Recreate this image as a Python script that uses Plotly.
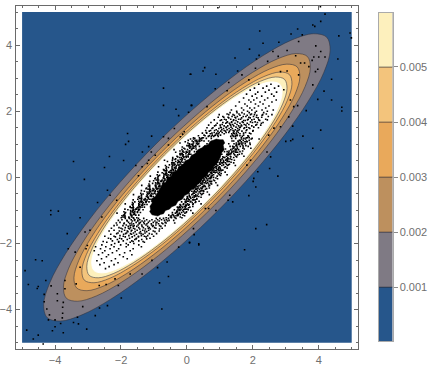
import plotly.graph_objects as go

region_x = [-5, 5, 5, -5, -5]
region_y = [-5, -5, 5, 5, -5]

# shape of the contours, clockwise from the upper right tip, for a contour reaching x = 1
outline_x = [0.975, 0.999, 0.956, 0.847, 0.681, 0.468, 0.224, -0.036, -0.294, -0.531, -0.732, -0.884, -0.975, -0.999, -0.956, -0.847, -0.681, -0.468, -0.224, 0.036, 0.294, 0.531, 0.732, 0.884, 0.975]
outline_y = [0.975, 0.884, 0.732, 0.531, 0.294, 0.036, -0.224, -0.468, -0.681, -0.847, -0.956, -0.999, -0.975, -0.884, -0.732, -0.531, -0.294, -0.036, 0.224, 0.468, 0.681, 0.847, 0.956, 0.999, 0.975]
# rightmost x of the contours at 0.001 ... 0.005 and of the white inner area
level_reach = [4.35, 3.75, 3.43, 3.19, 3.04, 2.89]

core_x = [1.10, 1.15, 1.10, 1.13, 1.05, 1.02, 0.90, 0.82, 0.76, 0.65, 0.60, 0.48, 0.42, 0.31, 0.24, 0.12, 0.05, -0.07, -0.14, -0.27, -0.34, -0.46, -0.53, -0.65, -0.71, -0.80, -0.88, -0.96, -1.06, -1.13,
          -1.10, -1.12, -1.05, -1.09, -1.05, -0.96, -0.82, -0.75, -0.64, -0.60, -0.47, -0.42, -0.30, -0.24, -0.12, -0.05, 0.07, 0.14, 0.26, 0.33, 0.45, 0.52, 0.64, 0.72, 0.82, 0.89, 1.00, 1.10]
core_y = [1.14, 1.04, 0.98, 0.84, 0.74, 0.62, 0.40, 0.33, 0.22, 0.15, 0.04, -0.03, -0.15, -0.22, -0.33, -0.38, -0.49, -0.55, -0.66, -0.72, -0.84, -0.89, -0.96, -1.00, -1.10, -1.12, -1.17, -1.15, -1.13, -1.03,
          -0.98, -0.87, -0.77, -0.72, -0.63, -0.58, -0.33, -0.22, -0.15, -0.02, 0.04, 0.16, 0.21, 0.33, 0.38, 0.50, 0.55, 0.67, 0.72, 0.84, 0.89, 0.96, 0.99, 1.10, 1.13, 1.16, 1.14, 1.14]

# stray points outside the white area
stray_x = [0.12, -0.71, -0.71, -0.33, -0.25, 0.15, 0.05, -0.38, -1.80, -1.77, -1.86, -1.07, -0.71, -0.56, -1.16, -1.35, -1.08, -2.35, -1.92, -3.44, -2.50, -1.55, -3.11, -1.36, -0.96, -0.08, -0.20, -0.13, -0.56, -1.47, -1.20, -1.16,
           0.94, 4.05, 4.19, 4.06, 3.82, 3.88, 2.21, 3.16, 3.36, 3.50, 3.39, 4.61, 4.95, 4.99, 2.31, 2.79, 1.90, 2.19, 1.46, 2.61, 3.04, 3.91, 4.06, 4.19, 4.58, 4.00, 3.85, 3.80, 3.45, 3.57, 3.30, 2.11, 2.77, 2.45, 3.90, 3.97, 3.70, 3.39, 3.04, 2.84, 4.39, 4.16, 3.82, 3.97, 4.39, 4.70, 4.70, 3.62, 3.36, 3.21, 4.06, 3.52, 3.21, 3.15, 3.00, 3.82, 0.10, 0.49, 0.54, 0.88, 1.54, 1.27, 1.67, 0.13, 0.61, 0.86, 1.22, 1.88, 2.08, 2.51, 2.76, 2.15, 2.03, 2.43, 2.54, 2.84, 2.48, 3.14, 2.94, 1.82, 1.93, 3.09, 3.24, 2.64,
           -4.13, -4.13, -3.90, -3.24, -3.63, -2.41, -2.71, -3.09, -3.60, -3.39, -4.59, -4.39, -4.91, -4.81, -4.51, -4.54, -4.28, -4.12, -4.33, -4.33, -3.93, -3.93, -3.75, -3.77, -3.77, -3.78, -4.25, -4.17, -4.20, -4.00, -3.83, -4.00, -4.08, -3.75, -4.86, -4.51, -4.66, -4.36, -3.44, -3.29, -3.32, -3.04, -2.78, -3.16, -2.65, -2.41, -1.99, -0.76, -0.83, -0.56, -0.89, -2.08, -2.45, -2.66, -3.24, -3.70, -3.70, -3.36, -3.02, -3.06, -2.94, -2.58, -2.33, -2.13, -0.25, 0.08, 0.36, -0.60, -1.06, -1.36, -1.72, -2.18,
           1.75, 2.09, 2.42, 0.36, 0.08, 0.22, 1.88, 2.09, 1.39, 1.25, 1.30, 0.88, 0.56, 0.66, 0.20, 2.01]
stray_y = [3.12, 2.70, 2.18, 2.06, 1.87, 2.18, 1.97, 1.48, 1.33, 1.09, 1.00, 1.25, 1.23, 1.18, 0.93, 0.77, 0.77, 0.63, 0.51, 0.48, 0.30, 0.36, -0.06, 0.32, 0.67, 1.38, 1.23, 1.31, 0.98, 0.05, 0.42, 0.52,
           5.13, 5.16, 4.94, 4.72, 4.61, 4.57, 4.43, 4.34, 4.49, 4.31, 4.11, 4.28, 4.37, 4.22, 4.06, 4.09, 3.88, 3.69, 3.61, 3.81, 3.84, 3.98, 3.81, 3.64, 3.58, 3.64, 3.64, 3.54, 3.46, 3.46, 3.68, 3.58, 3.66, 3.51, 3.20, 3.27, 3.35, 3.10, 3.22, 3.20, 2.97, 2.61, 2.80, 2.36, 2.34, 2.12, 2.01, 2.02, 2.17, 1.55, 1.43, 1.25, 1.15, 1.11, 1.09, 0.88, 3.12, 3.22, 3.32, 3.12, 3.22, 2.87, 3.10, 2.18, 2.14, 2.68, 2.62, 2.95, 3.30, 0.27, 0.04, 0.17, -0.03, 0.77, 0.62, 1.53, 1.28, 2.34, 2.65, 0.37, 0.52, 1.83, 2.14, 1.49,
           -1.00, -1.13, -1.02, -1.22, -1.70, -0.39, -0.76, -1.65, -2.16, -2.26, -2.49, -2.52, -2.82, -3.24, -3.30, -3.36, -3.12, -3.28, -3.54, -3.76, -3.52, -3.73, -3.78, -3.93, -4.11, -4.25, -3.98, -4.16, -4.31, -4.31, -4.42, -4.52, -4.64, -4.70, -4.62, -4.77, -4.89, -5.04, -4.39, -4.43, -4.23, -4.59, -4.18, -3.91, -3.95, -3.88, -3.65, -3.98, -3.19, -3.00, -2.73, -3.27, -3.24, -3.27, -2.72, -3.12, -3.37, -3.22, -2.06, -2.16, -1.60, -1.20, -0.54, -0.69, -2.11, -1.96, -2.01, -2.56, -2.51, -2.92, -2.92, -3.07,
           -2.19, -1.55, -1.43, -2.04, -1.98, -1.73, -0.55, -0.29, -0.74, -0.69, -0.54, -1.00, -0.94, -0.94, -1.55, -0.12]

# speckle in the white area, row by row
cloud_rows = [
    (2.82, [2.18, 2.55]), (2.76, [2.42, 2.78]), (2.70, [2.05, 2.31, 2.66]), (2.64, [1.92, 2.49]),
    (2.58, [2.15, 2.38, 2.72]), (2.52, [1.81, 2.08, 2.57]), (2.46, [1.98, 2.27, 2.64]), (2.40, [1.72, 2.12, 2.45]),
    (2.34, [1.88, 2.03, 2.36, 2.71]), (2.28, [1.59, 1.94, 2.22, 2.58]), (2.22, [1.76, 2.08, 2.31]),
    (2.16, [1.48, 1.83, 2.17, 2.49]), (2.10, [1.66, 1.91, 2.05, 2.39]), (2.04, [1.35, 1.72, 1.97, 2.28, 2.62]),
    (2.00, [1.51, 1.84, 2.11, 2.44]),
    (1.96, [1.31, 1.52, 1.67, 1.89, 2.07, 2.33]), (1.92, [1.22, 1.58, 1.74, 1.96, 2.41]),
    (1.88, [1.44, 1.61, 1.83, 2.12, 2.28]), (1.84, [1.09, 1.37, 1.53, 1.71, 1.79, 2.02, 2.47]),
    (1.80, [1.27, 1.48, 1.66, 1.92, 2.16]), (1.76, [1.14, 1.33, 1.57, 1.63, 1.86, 2.04, 2.39]),
    (1.72, [1.01, 1.41, 1.49, 1.72, 1.77, 2.21]), (1.68, [1.23, 1.36, 1.54, 1.68, 1.93, 2.07]),
    (1.64, [0.92, 1.18, 1.29, 1.46, 1.61, 1.83, 2.26]), (1.60, [1.07, 1.31, 1.39, 1.52, 1.74, 1.88, 2.12]),
    (1.56, [0.84, 1.13, 1.24, 1.42, 1.57, 1.66, 1.97]), (1.52, [1.02, 1.19, 1.34, 1.49, 1.62, 1.81, 2.03]),
    (1.48, [0.76, 0.97, 1.11, 1.28, 1.38, 1.54, 1.73, 1.91]), (1.44, [0.89, 1.06, 1.22, 1.33, 1.47, 1.59, 1.82]),
    (1.40, [0.68, 0.94, 1.03, 1.17, 1.29, 1.43, 1.52, 1.67, 2.00]),
    (1.36, [0.59, 0.83, 0.98, 1.07, 1.19, 1.27, 1.41, 1.56, 1.78]), (1.32, [0.71, 0.89, 0.96, 1.13, 1.36, 1.44, 1.61, 1.94]),
    (1.28, [0.52, 0.77, 0.86, 0.93, 1.02, 1.38, 1.49, 1.53, 1.72]), (1.24, [0.65, 0.74, 0.81, 0.95, 1.33, 1.42, 1.47, 1.68, 1.87]),
    (1.20, [0.50, 0.47, 0.38, 0.20, 1.65, 1.80, 1.83, 1.89]), (1.16, [0.41, 0.39, 0.20, 0.11, 1.66, 1.78, 1.95, 2.19]),
    (1.12, [0.45, 0.37, 0.30, 0.25, 0.04, 1.59, 1.62, 1.71, 1.89]), (1.08, [0.37, 0.31, 0.28, 0.20, -0.05, 1.56, 1.65, 1.76, 1.79, 1.83]),
    (1.04, [0.32, 0.20, 0.03, -0.21, 1.50, 1.58, 1.65, 1.70, 1.91]), (1.00, [0.33, 0.18, 0.15, 0.09, 1.50, 1.56, 1.59, 1.67, 1.92]),
    (0.96, [0.27, 0.18, 0.07, 0.04, 0.00, 1.49, 1.51, 1.70, 1.79]), (0.92, [0.27, 0.19, 0.12, 0.07, -0.14, 1.41, 1.44, 1.53, 1.71]),
    (0.88, [0.21, 0.18, 0.09, -0.09, 1.41, 1.53, 1.70, 1.94]), (0.84, [0.14, 0.02, -0.15, -0.39, 1.33, 1.48, 1.51, 1.57]),
    (0.80, [0.09, 0.07, -0.12, -0.21, 1.28, 1.36, 1.43, 1.48, 1.69]), (0.76, [0.08, 0.02, -0.01, -0.09, -0.34, 1.27, 1.36, 1.47, 1.50, 1.54]),
    (0.72, [0.06, -0.03, -0.14, -0.17, -0.21, 1.25, 1.31, 1.34, 1.42, 1.67]), (0.68, [0.04, -0.11, -0.14, -0.20, 1.24, 1.26, 1.45, 1.54]),
    (0.64, [0.00, -0.03, -0.12, -0.30, 1.20, 1.32, 1.49, 1.73]), (0.60, [-0.02, -0.10, -0.17, -0.22, -0.43, 1.12, 1.15, 1.24, 1.42]),
    (0.56, [-0.13, -0.15, -0.34, -0.43, 1.07, 1.22, 1.25, 1.31]), (0.52, [-0.15, -0.27, -0.44, -0.68, 1.03, 1.11, 1.18, 1.23, 1.44]),
    (0.48, [-0.17, -0.23, -0.26, -0.34, -0.59, 1.02, 1.11, 1.22, 1.25, 1.29]), (0.44, [-0.19, -0.28, -0.39, -0.42, -0.46, 1.00, 1.06, 1.09, 1.17, 1.42]),
    (0.40, [-0.21, -0.36, -0.39, -0.45, 0.99, 1.01, 1.20, 1.29]), (0.36, [-0.24, -0.32, -0.39, -0.44, -0.65, 0.94, 1.06, 1.23, 1.47]),
    (0.32, [-0.33, -0.45, -0.62, -0.86, 0.87, 0.90, 0.99, 1.17]), (0.28, [-0.33, -0.36, -0.45, -0.63, 0.81, 0.89, 0.96, 1.01, 1.22]),
    (0.24, [-0.41, -0.43, -0.62, -0.71, 0.79, 0.94, 0.97, 1.03]), (0.20, [-0.41, -0.50, -0.61, -0.64, -0.68, 0.77, 0.86, 0.97, 1.00, 1.04]),
    (0.16, [-0.46, -0.52, -0.55, -0.63, -0.88, 0.74, 0.80, 0.83, 0.91, 1.16]), (0.12, [-0.46, -0.61, -0.64, -0.70, 0.74, 0.76, 0.95, 1.04]),
    (0.08, [-0.49, -0.57, -0.64, -0.69, -0.90, 0.69, 0.81, 0.98, 1.22]), (0.04, [-0.58, -0.70, -0.87, -1.11, 0.62, 0.65, 0.74, 0.92]),
    (0.00, [-0.58, -0.61, -0.70, -0.88, 0.57, 0.72, 0.75, 0.81]), (-0.04, [-0.67, -0.69, -0.88, -0.97, 0.52, 0.60, 0.67, 0.72, 0.93]),
    (-0.08, [-0.66, -0.75, -0.86, -0.89, -0.93, 0.51, 0.54, 0.63, 0.81]), (-0.12, [-0.71, -0.77, -0.80, -0.88, -1.13, 0.48, 0.57, 0.68, 0.71, 0.75]),
    (-0.16, [-0.71, -0.86, -0.89, -0.95, 0.46, 0.52, 0.55, 0.63, 0.88]), (-0.20, [-0.74, -0.82, -0.89, -0.94, -1.15, 0.45, 0.47, 0.66, 0.75]),
    (-0.24, [-0.84, -0.96, -1.13, -1.37, 0.40, 0.52, 0.69, 0.93]), (-0.28, [-0.83, -0.86, -0.95, -1.13, 0.32, 0.47, 0.50, 0.56]),
    (-0.32, [-0.92, -0.94, -1.13, -1.22, 0.27, 0.35, 0.42, 0.47, 0.68]), (-0.36, [-0.91, -1.00, -1.11, -1.14, -1.18, 0.26, 0.29, 0.38, 0.56]),
    (-0.40, [-0.96, -1.02, -1.05, -1.13, -1.38, 0.23, 0.32, 0.43, 0.46, 0.50]), (-0.44, [-0.97, -1.12, -1.15, -1.21, 0.20, 0.26, 0.29, 0.37, 0.62]),
    (-0.48, [-0.99, -1.07, -1.14, -1.19, -1.40, 0.20, 0.22, 0.41, 0.50]), (-0.52, [-1.09, -1.21, -1.38, -1.62, 0.15, 0.27, 0.44, 0.68]),
    (-0.56, [-1.08, -1.11, -1.20, -1.38, 0.07, 0.22, 0.25, 0.31]), (-0.60, [-1.17, -1.19, -1.38, -1.47, 0.02, 0.10, 0.17, 0.22, 0.43]),
    (-0.64, [-1.17, -1.26, -1.37, -1.40, -1.44, 0.00, 0.03, 0.12, 0.30]), (-0.68, [-1.21, -1.27, -1.30, -1.38, -1.63, -0.02, 0.07, 0.18, 0.21, 0.25]),
    (-0.72, [-1.22, -1.37, -1.40, -1.46, -0.05, 0.01, 0.04, 0.12, 0.37]), (-0.76, [-1.24, -1.32, -1.39, -1.44, -1.65, -0.05, -0.03, 0.16, 0.25]),
    (-0.80, [-1.34, -1.46, -1.63, -1.87, -0.10, 0.02, 0.19, 0.43]), (-0.84, [-1.34, -1.37, -1.46, -1.64, -0.19, -0.04, -0.01, 0.05]),
    (-0.88, [-1.42, -1.44, -1.63, -1.72, -0.23, -0.15, -0.08, -0.03, 0.18]), (-0.92, [-1.42, -1.51, -1.62, -1.65, -1.69, -0.25, -0.22, -0.13, 0.05]),
    (-0.96, [-1.46, -1.52, -1.55, -1.63, -1.88, -0.27, -0.18, -0.07, -0.04, 0.00]), (-1.00, [-1.47, -1.62, -1.65, -1.71, -0.30, -0.24, -0.21, -0.13, 0.12]),
    (-1.04, [-1.50, -1.58, -1.65, -1.70, -1.91, -0.31, -0.29, -0.10, -0.01]), (-1.08, [-1.59, -1.71, -1.88, -2.12, -0.35, -0.23, -0.06, 0.18]),
    (-1.12, [-1.59, -1.62, -1.71, -1.89, -0.44, -0.29, -0.26, -0.20]), (-1.16, [-1.67, -1.69, -1.88, -1.97, -0.48, -0.40, -0.33, -0.28, -0.07]),
    (-1.20, [-1.67, -1.76, -1.87, -1.90, -1.94, -0.50, -0.47, -0.38, -0.20]),
    (-1.24, [-1.87, -1.74, -1.61, -1.47, -1.31, -0.93, -0.82, -0.71, -0.56, -0.33]), (-1.28, [-1.97, -1.69, -1.58, -1.43, -1.22, -1.06, -0.89, -0.77, -0.62]),
    (-1.32, [-1.81, -1.66, -1.49, -1.36, -1.28, -1.13, -0.97, -0.84, -0.59]), (-1.36, [-2.03, -1.77, -1.54, -1.41, -1.31, -1.17, -1.02, -0.91, -0.66]),
    (-1.40, [-1.91, -1.73, -1.62, -1.44, -1.29, -1.21, -1.08, -0.86, -0.73]), (-1.44, [-2.12, -1.84, -1.67, -1.48, -1.37, -1.24, -1.07, -0.94]),
    (-1.48, [-1.78, -1.63, -1.52, -1.36, -1.19, -1.04, -0.79]), (-1.52, [-2.06, -1.87, -1.71, -1.46, -1.32, -1.14, -0.98]),
    (-1.56, [-1.96, -1.74, -1.58, -1.43, -1.26, -1.11, -0.83]), (-1.60, [-2.21, -1.89, -1.67, -1.51, -1.34, -1.16]),
    (-1.64, [-1.98, -1.79, -1.57, -1.41, -1.22, -0.97]), (-1.68, [-2.09, -1.83, -1.62, -1.44, -1.27]),
    (-1.72, [-2.31, -1.92, -1.68, -1.53, -1.33, -1.06]), (-1.76, [-2.03, -1.76, -1.59, -1.38, -1.19]),
    (-1.80, [-2.17, -1.87, -1.66, -1.47, -1.24]), (-1.84, [-2.38, -2.04, -1.74, -1.53, -1.12]),
    (-1.88, [-2.11, -1.81, -1.58, -1.37]), (-1.92, [-2.26, -1.93, -1.67, -1.46]),
    (-1.96, [-2.43, -2.07, -1.72, -1.29]), (-2.00, [-2.19, -1.84, -1.61]),
    (-2.04, [-2.58, -2.29, -2.01, -1.78, -1.46]), (-2.10, [-2.77, -2.46, -2.21, -1.84, -1.38]),
    (-2.16, [-2.62, -2.33, -2.07, -1.63]), (-2.22, [-2.81, -2.49, -2.13, -1.72]),
    (-2.28, [-2.56, -2.26, -1.89]), (-2.34, [-2.68, -2.38, -2.04, -1.67]),
    (-2.40, [-2.44, -1.93]), (-2.46, [-2.59, -2.17, -1.81]), (-2.52, [-2.73, -2.29]),
    (-2.58, [-2.51, -2.09]), (-2.64, [-2.64, -2.21]), (-2.70, [-2.36]), (-2.76, [-2.47]),
]

# more speckle around the black centre, on rows between the ones above
halo_rows = [
    (1.90, [0.98, 1.27, 1.40, 1.93, 2.05, 2.30, 2.58]), (1.82, [0.95, 1.12, 1.25, 1.46, 1.88, 2.11, 2.27]),
    (1.74, [0.83, 1.05, 1.19, 1.42, 1.84, 1.97, 2.18, 2.44]), (1.66, [0.73, 1.09, 1.21, 1.35, 1.71, 1.99, 2.14, 2.31]),
    (1.58, [0.66, 0.88, 1.01, 1.33, 1.65, 1.79, 2.09, 2.24]), (1.50, [0.61, 0.79, 1.04, 1.20, 1.60, 1.75, 1.88, 2.17]),
    (1.42, [0.57, 0.72, 0.84, 1.13, 1.40, 1.55, 1.80, 2.01]), (1.34, [0.47, 0.60, 0.76, 0.91, 1.42, 1.50, 1.72, 1.90]),
    (1.26, [0.35, 0.55, 0.68, 0.84, 1.39, 1.52, 1.61, 1.85]), (1.18, [0.24, 0.45, 0.59, 0.74, 1.36, 1.48, 1.73, 1.98]),
    (1.10, [0.16, 0.40, 0.52, 0.66, 1.37, 1.42, 1.55, 1.81]), (1.02, [0.07, 0.29, 0.36, 0.61, 1.27, 1.43, 1.60, 1.77]),
    (0.94, [0.11, 0.22, 0.38, 0.55, 1.31, 1.39, 1.62, 1.86]), (0.86, [-0.06, 0.15, 0.28, 0.44, 1.17, 1.38, 1.46, 1.74]),
    (0.78, [-0.13, -0.02, 0.23, 0.30, 1.14, 1.22, 1.40, 1.61]), (0.70, [-0.20, 0.07, 0.12, 0.26, 1.06, 1.21, 1.30, 1.59]),
    (0.62, [-0.28, -0.09, 0.04, 0.20, 0.98, 1.09, 1.33, 1.51]), (0.54, [-0.36, -0.20, -0.06, 0.10, 0.96, 1.02, 1.19, 1.36]),
    (0.46, [-0.44, -0.24, -0.12, -0.04, 0.89, 0.94, 1.12, 1.34]), (0.38, [-0.53, -0.27, -0.15, -0.10, 0.80, 0.90, 1.11, 1.26]),
    (0.30, [-0.56, -0.38, -0.24, -0.20, 0.73, 0.84, 0.97, 1.14]), (0.22, [-0.69, -0.47, -0.35, -0.26, 0.69, 0.82, 0.90, 1.09]),
    (0.14, [-0.75, -0.50, -0.42, -0.36, 0.61, 0.71, 0.86, 0.99]), (0.06, [-0.83, -0.62, -0.51, -0.44, 0.55, 0.64, 0.77, 1.02]),
    (-0.02, [-0.95, -0.72, -0.55, -0.50, 0.49, 0.60, 0.68, 0.88]), (-0.10, [-1.01, -0.77, -0.68, -0.56, 0.41, 0.49, 0.62, 0.84]),
    (-0.18, [-1.04, -0.85, -0.72, -0.67, 0.34, 0.42, 0.59, 0.73]), (-0.26, [-1.17, -0.93, -0.80, -0.74, 0.29, 0.36, 0.54, 0.66]),
    (-0.34, [-1.24, -1.03, -0.90, -0.85, 0.19, 0.31, 0.45, 0.60]), (-0.42, [-1.29, -1.10, -0.96, -0.89, 0.15, 0.23, 0.40, 0.51]),
    (-0.50, [-1.33, -1.16, -1.03, -0.95, 0.07, 0.18, 0.34, 0.47]), (-0.58, [-1.45, -1.23, -1.08, -1.02, 0.01, 0.09, 0.27, 0.36]),
    (-0.66, [-1.49, -1.29, -1.14, -1.09, -0.08, 0.05, 0.20, 0.30]), (-0.74, [-1.58, -1.36, -1.25, -1.15, -0.16, -0.03, 0.10, 0.27]),
    (-0.82, [-1.66, -1.43, -1.28, -1.21, -0.21, -0.11, 0.07, 0.18]), (-0.90, [-1.72, -1.48, -1.36, -1.29, -0.29, -0.20, -0.05, 0.09]),
    (-0.98, [-1.79, -1.57, -1.44, -1.33, -0.38, -0.22, -0.10, 0.04]), (-1.06, [-1.86, -1.63, -1.50, -1.41, -0.44, -0.31, -0.16, -0.02]),
    (-1.14, [-1.92, -1.68, -1.55, -1.46, -0.55, -0.41, -0.27, -0.12]), (-1.22, [-1.99, -1.76, -1.63, -1.52, -0.63, -0.47, -0.36, -0.15]),
    (-1.30, [-2.08, -1.82, -1.59, -1.49, -0.68, -0.54, -0.40]), (-1.38, [-2.14, -1.90, -1.68, -1.45, -0.94, -0.76, -0.63, -0.37]),
    (-1.46, [-2.21, -1.94, -1.72, -1.60, -1.02, -0.83, -0.66]), (-1.54, [-2.29, -2.00, -1.77, -1.62, -1.17, -0.94, -0.75]),
    (-1.62, [-2.36, -2.05, -1.81, -1.69, -1.28, -1.02, -0.84]), (-1.70, [-2.13, -1.86, -1.71, -1.39, -1.14, -0.92]),
    (-1.78, [-2.49, -2.21, -1.93, -1.47, -1.29, -1.01]), (-1.86, [-2.31, -1.98, -1.54, -1.22]),
    (-1.94, [-2.54, -2.07, -1.63, -1.33]),
]

# colour bar
bar_lo = [0.0, 0.001, 0.002, 0.003, 0.004, 0.005]
bar_hi = [0.001, 0.002, 0.003, 0.004, 0.005, 0.006]
band_colors = ["#26568b", "#7f7a84", "#bd905e", "#e9a95b", "#f3c47c", "#fdf0bd"]
bar_ticks = [0.001, 0.002, 0.003, 0.004, 0.005]
bar_labels = ["0.001", "0.002", "0.003", "0.004", "0.005"]
axis_ticks = [-4, -2, 0, 2, 4]
axis_labels = ["\u22124", "\u22122", "0", "2", "4"]

cloud_x = []
cloud_y = []
for row_y, row_xs in cloud_rows + halo_rows:
    for row_x in row_xs:
        cloud_x.append(row_x)
        cloud_y.append(row_y)

frame = "#6a6a6a"
label_font = dict(family="Liberation Sans", size=11, color="#6f6f6f")
edge = "rgba(50,50,60,0.55)"

fig = go.Figure()
fig.add_trace(go.Scatter(x=region_x, y=region_y, fill="toself", fillcolor=band_colors[0], mode="none"))
fills = band_colors[1:] + ["white"]
for reach, col in zip(level_reach, fills):
    line = dict(color="white" if col == "white" else edge, width=1, shape="spline", smoothing=1)
    fig.add_trace(go.Scatter(x=[reach * v for v in outline_x], y=[reach * v for v in outline_y],
                             fill="toself", fillcolor=col, mode="lines", line=line))
fig.add_trace(go.Scatter(x=core_x, y=core_y, fill="toself", fillcolor="black", mode="lines",
                         line=dict(color="black", width=0.5)))
fig.add_trace(go.Scatter(x=cloud_x + stray_x, y=cloud_y + stray_y, mode="markers",
                         marker=dict(symbol="square", size=1.6, color="black", line=dict(width=0))))

for lo, hi, col in zip(bar_lo, bar_hi, band_colors):
    fig.add_trace(go.Bar(x=[1], y=[hi - lo], base=[lo], width=1, xaxis="x2", yaxis="y2",
                         marker=dict(color=col, line=dict(color="rgba(40,40,50,0.6)", width=0.8))))

common = dict(range=[-5.2, 5.2], showgrid=False, zeroline=False, showline=True, linecolor=frame, linewidth=1.4,
              mirror="allticks", ticks="inside", ticklen=4, tickwidth=1, tickcolor=frame,
              tickvals=axis_ticks, ticktext=axis_labels, tickfont=label_font,
              minor=dict(dtick=0.5, tick0=0, ticks="inside", ticklen=2.5, tickwidth=1, tickcolor=frame))

fig.update_layout(
    width=430, height=372, autosize=False, showlegend=False, barmode="overlay",
    margin=dict(l=0, r=0, t=0, b=0), paper_bgcolor="white", plot_bgcolor="white",
    xaxis=dict(domain=[15.5 / 430, 358.3 / 430], **common),
    yaxis=dict(domain=[1 - 349.3 / 372, 1 - 5.5 / 372], **common),
    xaxis2=dict(domain=[378.5 / 430, 392.5 / 430], anchor="y2", range=[0.5, 1.5], showticklabels=False,
                ticks="", showgrid=False, zeroline=False, showline=True, linecolor="#aaaaaa", linewidth=1, mirror=True),
    yaxis2=dict(domain=[1 - 341 / 372, 1 - 12.5 / 372], anchor="x2", side="right", range=[0.00002, 0.00599],
                tickvals=bar_ticks, ticktext=bar_labels, tickfont=label_font, ticks="outside", ticklen=4,
                tickcolor="#8a8a8a", showgrid=False, zeroline=False, showline=True, linecolor="#aaaaaa",
                linewidth=1, mirror=True),
)
fig.write_html("out.html", config={"displayModeBar": False}, post_script="document.body.style.margin='0';")
